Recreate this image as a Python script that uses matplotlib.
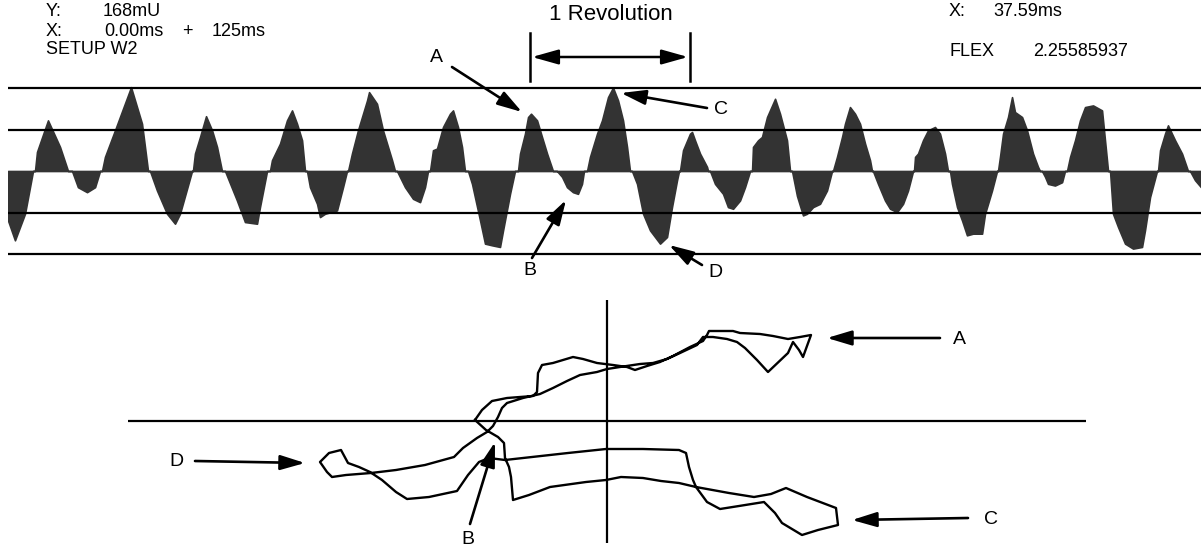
import matplotlib.pyplot as plt

W, H = 1201, 550

# Waveform: time in ms over the 125 ms window, amplitude in grid units
# (one row per lobe)
wave_t = [0.00, 0.73, 1.78, 2.62,
          2.83, 3.04, 4.19, 5.45, 6.29,
          6.71, 7.33, 8.28, 9.12, 9.64,
          9.85, 10.16, 11.21, 12.89, 14.04, 14.35, 14.67,
          14.88, 15.61, 16.66, 17.50, 18.02, 19.28,
          19.38, 19.59, 20.12, 20.75, 21.38, 21.90, 22.42,
          22.74, 23.99, 24.83, 26.09, 26.40, 27.14,
          27.45, 27.66, 28.50, 29.23, 29.76, 30.28, 30.81, 31.12,
          31.33, 31.64, 32.38, 32.69, 33.22, 34.47, 35.10, 35.52,
          35.63, 36.04, 36.67, 37.62, 37.83, 38.66, 39.29, 40.24, 40.55,
          40.76, 41.60, 42.44, 43.17, 43.69, 44.01,
          44.22, 44.53, 44.95, 45.58, 46.31, 46.63, 47.15, 47.57, 47.88,
          48.20, 48.62, 49.46, 49.98, 50.71, 51.55, 51.87, 52.60, 53.12,
          53.44, 53.65, 54.17, 54.49, 54.80, 55.43, 55.95, 56.48, 57.10,
          57.52, 58.05, 58.57, 59.20, 59.72, 60.14, 60.35,
          60.67, 60.98, 61.72, 62.24, 62.87, 63.39, 63.92, 64.44, 64.86, 65.17,
          65.38, 65.91, 66.54, 67.27, 68.32, 69.05, 69.57, 70.10, 70.31,
          70.41, 70.73, 71.46, 71.67, 71.98, 72.51, 73.24, 73.35,
          73.56, 74.08, 74.92, 75.44, 75.97, 76.70, 77.22, 77.75,
          77.96, 78.06, 78.59, 79.00, 79.53, 80.37, 80.89, 81.62, 81.94,
          82.15, 82.67, 83.30, 83.72, 84.35, 85.08, 85.81, 86.34,
          86.44, 86.86, 87.39, 87.70, 88.22, 88.75, 89.27, 89.80, 90.32, 90.53,
          90.63, 91.16, 91.89, 92.42, 93.15, 93.78, 94.30, 94.83,
          94.93, 95.04, 95.35, 95.87, 96.40, 97.13, 97.65, 98.18, 98.49,
          98.70, 98.91, 99.44, 99.96, 100.48, 101.11, 102.06, 102.37, 103.10, 103.63,
          103.73, 103.94, 104.26, 104.78, 105.20, 105.51, 106.25, 106.77, 107.40, 107.92, 108.13,
          108.34, 108.66, 108.97, 109.70, 110.44, 110.75,
          110.96, 111.28, 111.80, 112.32, 112.85, 113.69, 114.63, 114.94, 115.26,
          115.47, 115.78, 116.31, 117.04, 117.88, 118.82, 119.13, 119.66, 120.39,
          120.50, 120.71, 121.23, 121.54, 122.28, 123.01, 123.64,
          123.85, 124.37, 125.00]
wave_amp = [-1.19, -1.67, -1.03, 0,
            0, 0.46, 1.22, 0.58, 0,
            0, -0.39, -0.51, -0.39, 0,
            0, 0.34, 0.98, 2.02, 1.14, 0.58, 0,
            0, -0.47, -1.03, -1.27, -1.03, 0,
            0, 0.42, 0.82, 1.32, 0.98, 0.58, 0,
            0, -0.71, -1.23, -1.27, -0.87, 0,
            0, 0.26, 0.66, 1.22, 1.46, 1.14, 0.74, 0,
            0, -0.39, -0.79, -1.11, -1.03, -0.95, -0.39, 0,
            0, 0.42, 0.98, 1.70, 1.90, 1.62, 0.98, 0.26, 0,
            0, -0.39, -0.67, -0.75, -0.39, 0,
            0, 0.50, 0.54, 1.06, 1.38, 1.46, 1.06, 0.58, 0,
            0, -0.31, -1.19, -1.75, -1.79, -1.83, -1.43, -0.55, 0,
            0, 0.42, 0.90, 1.30, 1.38, 1.22, 0.82, 0.42, 0,
            0, -0.14, -0.39, -0.51, -0.55, -0.31, 0,
            0, 0.34, 0.90, 1.22, 1.78, 2.01, 1.70, 1.22, 0.58, 0,
            0, -0.31, -1.03, -1.43, -1.75, -1.59, -0.87, -0.22, 0,
            0, 0.50, 0.90, 0.94, 0.74, 0.42, 0.10, 0,
            0, -0.31, -0.55, -0.87, -0.91, -0.71, -0.39, 0,
            0, 0.58, 0.74, 0.82, 1.30, 1.74, 1.38, 0.74, 0,
            0, -0.60, -1.07, -1.03, -0.87, -0.79, -0.47, 0,
            0, 0.34, 0.82, 1.14, 1.54, 1.38, 1.14, 0.66, 0.26, 0,
            0, -0.31, -0.71, -0.91, -0.99, -0.79, -0.47, 0,
            0, 0.34, 0.42, 0.74, 0.98, 1.06, 0.90, 0.42, 0,
            0, -0.31, -0.87, -1.19, -1.55, -1.51, -1.51, -1.03, -0.47, 0,
            0, 0.34, 0.90, 1.30, 1.78, 1.42, 1.30, 0.98, 0.42, 0.10, 0,
            0, -0.14, -0.31, -0.35, -0.27, 0,
            0, 0.34, 0.74, 1.22, 1.54, 1.58, 1.46, 0.74, 0,
            0, -1.03, -1.35, -1.75, -1.87, -1.83, -1.43, -0.63, 0,
            0, 0.50, 0.90, 1.10, 0.74, 0.42, 0,
            0, -0.22, -0.39]
grid_levels = [-2, -1, 1, 2]

# Orbit trace (two revolutions, closed)
orbit_x = [-13.2, -12.5, -11.5, -10.0, -7.4, -7.0, -6.9, -6.5, -5.4, -3.4, -2.4,
           -1.0, 0.6, 2.0, 2.8, 4.0, 5.3, 6.6, 8.3, 9.6, 10.0, 10.2, 12.6, 13.3,
           15.3, 16.6, 18.1, 19.3, 20.4, 19.6, 19.2, 18.6, 18.1, 16.1, 15.0, 13.8,
           13.0, 12.0, 10.6, 9.6, 9.0, 7.3, 6.0, 4.6, 3.3, 1.3, 0.0, -1.0, -2.7,
           -4.0, -5.4, -6.7, -8.4, -10.0, -10.5, -10.9, -11.4, -12.0, -13.0, -14.4,
           -15.3, -18.2, -21.1, -23.6, -26.1, -27.5, -28.0, -28.7, -27.8, -26.6,
           -25.9, -24.8, -23.7, -22.5, -21.1, -20.0, -17.8, -15.0, -13.9, -12.8,
           -11.8, -10.2, -7.5, -3.9, -0.1, 3.6, 7.2, 7.9, 8.2, 8.6, 8.9, 10.0,
           11.3, 13.2, 15.7, 16.8, 17.5, 19.5, 21.1, 23.1, 22.9, 20.0, 17.9, 16.4,
           14.7, 12.2, 8.9, 7.2, 5.4, 3.6, 1.4, -0.1, -2.1, -5.7, -7.8, -9.4, -9.6,
           -9.8, -10.2, -10.3, -10.9, -12.1, -13.2]
orbit_y = [0.1, 1.1, 2.0, 2.3, 2.5, 2.9, 4.8, 5.6, 5.8, 6.4, 6.2,
           5.8, 5.6, 5.4, 5.1, 5.5, 5.9, 6.5, 7.4, 8.0, 8.6, 9.0, 9.0, 8.8,
           8.7, 8.5, 8.2, 8.4, 8.6, 6.4, 7.1, 7.9, 6.8, 4.9, 6.1, 7.3,
           7.9, 8.2, 8.4, 8.4, 7.6, 6.8, 6.2, 5.8, 5.7, 5.4, 5.2, 4.9, 4.6,
           4.0, 3.3, 2.7, 2.3, 1.8, 1.3, 0.4, -0.5, -1.1, -1.7, -2.7,
           -3.6, -4.4, -4.9, -5.2, -5.4, -5.6, -5.1, -4.1, -3.2, -2.9,
           -4.2, -4.6, -5.1, -5.9, -7.1, -7.8, -7.6, -7.0, -5.4, -4.1,
           -3.7, -3.9, -3.6, -3.2, -2.8, -2.8, -2.9, -3.2, -4.6, -5.9, -6.6, -8.1,
           -8.8, -8.5, -8.1, -9.2, -10.2, -11.4, -10.9, -10.4, -8.7, -7.6, -6.7, -7.3,
           -7.6, -7.2, -6.6, -6.2, -6.0, -5.7, -5.6, -5.9, -6.1, -6.6, -7.4, -7.9, -5.6,
           -4.6, -3.7, -2.2, -1.6, -0.9, 0.1]

plt.rcParams['font.family'] = ['Liberation Sans', 'DejaVu Sans']

fig = plt.figure(figsize=(12.01, 5.5), dpi=100)


def fp(x, y):
    # pixel position -> figure fraction
    return (x / W, 1 - y / H)


# --- waveform strip ---
ax_w = fig.add_axes([8 / W, 1 - 258.15 / H, (W - 8) / W, 174.3 / H])
ax_w.fill_between(wave_t, wave_amp, 0, color='#333333', edgecolor='#333333', lw=1.2)
for lev in grid_levels:
    ax_w.axhline(lev, color='black', lw=1.6)
ax_w.set_xlim(0, 125)
ax_w.set_ylim(-2.1, 2.1)
ax_w.axis('off')

# --- orbit plot ---
ax_o = fig.add_axes([128 / W, 7 / H, 958 / W, 243 / H])
ax_o.axhline(0, color='black', lw=1.6)
ax_o.axvline(0, color='black', lw=1.6)
ax_o.plot(orbit_x, orbit_y, color='black', lw=1.7, solid_joinstyle='round')
ax_o.set_xlim(-47.9, 47.9)
ax_o.set_ylim(-12.2, 12.1)
ax_o.axis('off')

# --- header texts ---
small = 13
fig.text(*fp(46, 12), 'Y:', fontsize=small, va='center')
fig.text(*fp(103, 12), '168mU', fontsize=small, va='center')
fig.text(*fp(46, 32), 'X:', fontsize=small, va='center')
fig.text(*fp(104, 32), '0.00ms', fontsize=small, va='center')
fig.text(*fp(187, 32), '+', fontsize=small, va='center', ha='center')
fig.text(*fp(212, 32), '125ms', fontsize=small, va='center')
fig.text(*fp(46, 50), 'SETUP W2', fontsize=small, va='center')
fig.text(*fp(949, 12), 'X:', fontsize=small, va='center')
fig.text(*fp(993, 12), '37.59ms', fontsize=small, va='center')
fig.text(*fp(949, 51), 'FLEX', fontsize=small, va='center')
fig.text(*fp(1033, 51), '2.25585937', fontsize=small, va='center')

# one revolution bracket
fig.text(*fp(611, 15), '1 Revolution', fontsize=16, va='center', ha='center')
for xb in (530, 690):
    fig.add_artist(plt.Line2D([xb / W, xb / W], [1 - 33 / H, 1 - 81 / H], color='black', lw=1.8))
ax_w.annotate('', xy=fp(688, 57), xytext=fp(532, 57), xycoords='figure fraction',
              arrowprops=dict(arrowstyle='<|-|>,head_length=1.6,head_width=0.45',
                              mutation_scale=10, color='black', lw=1.8, shrinkA=0, shrinkB=0))

arrow = dict(arrowstyle='-|>,head_length=1.5,head_width=0.45', mutation_scale=10,
             color='black', lw=1.9, shrinkA=0, shrinkB=0)

# event markers on the waveform: (label pos, tail, tip)
wave_marks = [('A', (436, 58), (452, 67), (522, 112)),
              ('B', (530, 270), (532, 258), (566, 200)),
              ('C', (721, 109), (707, 108), (621, 93)),
              ('D', (715, 272), (702, 265), (669, 245))]
for lab, lp, tail, tip in wave_marks:
    fig.text(*fp(*lp), lab, fontsize=14, ha='center', va='center')
    ax_w.annotate('', xy=fp(*tip), xytext=fp(*tail), xycoords='figure fraction',
                  arrowprops=arrow, annotation_clip=False)

# event markers on the orbit
orbit_marks = [('A', (959, 339), (940, 338), (827, 338)),
               ('B', (468, 539), (470, 524), (495, 442)),
               ('C', (991, 519), (968, 518), (852, 520)),
               ('D', (176, 462), (195, 461), (305, 463))]
for lab, lp, tail, tip in orbit_marks:
    fig.text(*fp(*lp), lab, fontsize=14, ha='center', va='center')
    ax_o.annotate('', xy=fp(*tip), xytext=fp(*tail), xycoords='figure fraction',
                  arrowprops=arrow, annotation_clip=False)

fig.savefig('out.png', dpi=100, facecolor='white')
